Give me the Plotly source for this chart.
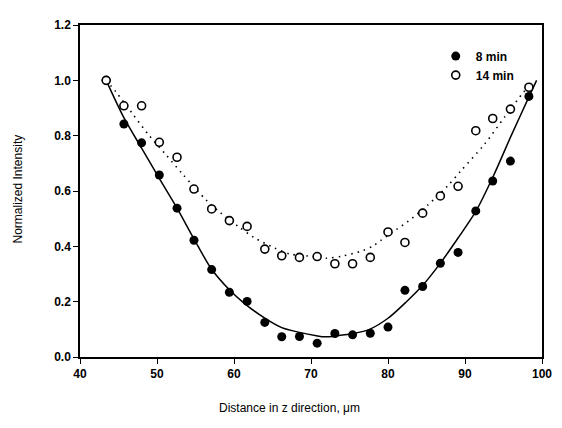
import plotly.graph_objects as go

# Measured positions (µm)
x_pos = [43.4, 45.7, 48.0, 50.3, 52.6, 54.8, 57.1, 59.4, 61.7, 64.0, 66.2, 68.5,
         70.8, 73.1, 75.4, 77.7, 80.0, 82.2, 84.5, 86.8, 89.1, 91.4, 93.6, 95.9, 98.3]

# 8 min (filled)
int_8 = [1.0, 0.842, 0.774, 0.658, 0.538, 0.422, 0.316, 0.234, 0.201, 0.125, 0.073, 0.074,
         0.050, 0.085, 0.080, 0.086, 0.108, 0.241, 0.255, 0.339, 0.378, 0.528, 0.636, 0.708, 0.942]

# 14 min (open)
int_14 = [1.0, 0.908, 0.908, 0.776, 0.722, 0.607, 0.535, 0.493, 0.472, 0.390, 0.366, 0.360,
          0.363, 0.337, 0.337, 0.360, 0.452, 0.414, 0.520, 0.582, 0.617, 0.818, 0.862, 0.896, 0.975]

# Fitted curve for 8 min (solid)
fit8_x = [43.4, 45.7, 48.0, 50.2, 52.6, 54.9, 57.05, 59.4, 61.3, 63.9, 66.2, 68.5, 70.7,
          71.8, 73.4, 75.5, 77.6, 80.0, 82.4, 84.6, 86.9, 89.1, 91.4, 93.7, 96.0, 98.3, 99.3]
fit8_y = [1.0, 0.865, 0.755, 0.650, 0.538, 0.422, 0.319, 0.243, 0.195, 0.142, 0.106, 0.089, 0.077,
          0.073, 0.077, 0.085, 0.100, 0.140, 0.200, 0.262, 0.343, 0.430, 0.526, 0.655, 0.800, 0.940, 1.0]

# Fitted curve for 14 min (dotted)
fit14_x = [43.4, 44.7, 46.8, 49.0, 51.1, 53.3, 56.4, 58.3, 60.5, 62.6, 65.2, 67.3, 69.6,
           72.0, 74.1, 76.7, 78.1, 79.0, 81.1, 82.6, 85.2, 87.8, 89.5, 92.5, 95.2, 97.6, 98.4]
fit14_y = [1.0, 0.957, 0.880, 0.800, 0.733, 0.662, 0.567, 0.520, 0.473, 0.432, 0.395, 0.372, 0.365,
           0.357, 0.365, 0.384, 0.402, 0.420, 0.461, 0.490, 0.550, 0.620, 0.674, 0.768, 0.869, 0.957, 0.980]

x_ticks = [40, 50, 60, 70, 80, 90, 100]
y_ticks = [0.0, 0.2, 0.4, 0.6, 0.8, 1.0, 1.2]

FONT = "Liberation Sans, Arial, sans-serif"

fig = go.Figure()
fig.add_trace(go.Scatter(x=fit8_x, y=fit8_y, mode="lines", showlegend=False,
                         line=dict(color="black", width=1.5, shape="spline", smoothing=0.8),
                         hoverinfo="skip"))
fig.add_trace(go.Scatter(x=fit14_x, y=fit14_y, mode="lines", showlegend=False,
                         line=dict(color="black", width=1.6, dash="1.5px,5px", shape="spline", smoothing=0.8),
                         hoverinfo="skip"))
fig.add_trace(go.Scatter(x=x_pos, y=int_8, mode="markers", name="8 min",
                         marker=dict(symbol="circle", size=9, color="black",
                                     line=dict(color="black", width=0))))
fig.add_trace(go.Scatter(x=x_pos, y=int_14, mode="markers", name="14 min",
                         marker=dict(symbol="circle", size=8, color="white",
                                     line=dict(color="black", width=1.6))))

axis_common = dict(showline=True, linecolor="black", linewidth=1.5, mirror=True,
                   ticks="outside", ticklen=5, tickwidth=1.2, tickcolor="black",
                   showgrid=False, zeroline=False,
                   tickfont=dict(family=FONT, size=12, color="black", weight="bold"))

fig.update_xaxes(range=[40, 100], tickvals=x_ticks, ticktext=[str(v) for v in x_ticks],
                 **axis_common)
fig.update_yaxes(range=[0, 1.2], tickvals=y_ticks, ticktext=[f"{v:.1f}" for v in y_ticks],
                 **axis_common)

# The page body has an 8px margin, so the figure is sized/offset to compensate.
fig.update_layout(
    width=554, height=420,
    margin=dict(l=72, r=13, t=10, b=71),
    paper_bgcolor="white", plot_bgcolor="white",
    showlegend=True,
    legend=dict(x=0.770, y=0.950, xanchor="left", yanchor="top",
                bgcolor="rgba(0,0,0,0)", borderwidth=0, itemwidth=30,
                font=dict(family=FONT, size=12, color="black", weight="bold")),
    annotations=[
        dict(text="Distance in z direction, μm", xref="paper", yref="paper",
             x=(293 - 80) / 469, y=(357 - 409) / 339, xanchor="center", yanchor="middle",
             showarrow=False, font=dict(family=FONT, size=12, color="black")),
        dict(text="Normalized Intensity", xref="paper", yref="paper",
             x=(17 - 80) / 469, y=(357 - 185) / 339, xanchor="center", yanchor="middle",
             textangle=-90, showarrow=False, font=dict(family=FONT, size=12, color="black")),
    ],
)

fig.write_html("out.html")
